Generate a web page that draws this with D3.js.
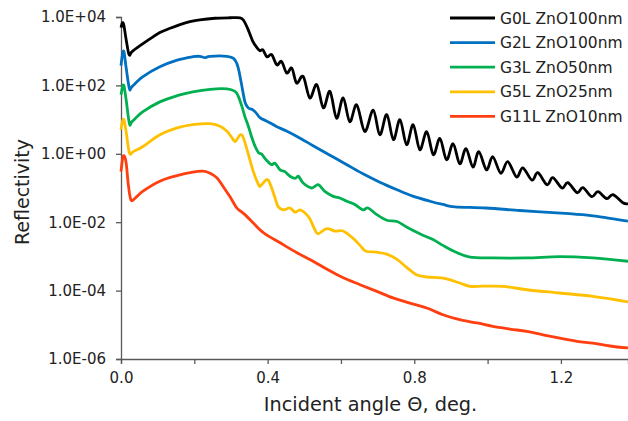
<!DOCTYPE html>
<html>
<head>
<meta charset="utf-8">
<script src="https://cdn.jsdelivr.net/npm/d3@7"></script>
<style>
  body { margin: 0; background: #fff; }
  svg { font-family: "DejaVu Sans", Verdana, sans-serif; }
</style>
</head>
<body>
<svg class="refl" width="628" height="421"></svg>
<script>
// angle in deg, reflectivity
var g0Angle = [0, 0.004, 0.008, 0.014, 0.022, 0.030, 0.052, 0.079, 0.106, 0.134, 0.161, 0.188, 0.215, 0.256, 0.297, 0.325,
  0.335, 0.346, 0.360, 0.371, 0.379, 0.387, 0.398, 0.411, 0.425, 0.438, 0.452, 0.466, 0.479, 0.497, 0.515, 0.534,
  0.552, 0.570, 0.588, 0.606, 0.624, 0.643, 0.665, 0.688, 0.706, 0.725, 0.743, 0.761, 0.779, 0.797, 0.815, 0.834,
  0.852, 0.870, 0.888, 0.906, 0.924, 0.941, 0.960, 0.976, 0.997, 1.014, 1.036, 1.055, 1.079, 1.096, 1.121, 1.137,
  1.162, 1.178, 1.203, 1.219, 1.244, 1.260, 1.284, 1.301, 1.325, 1.342, 1.369, 1.383];
var g0Refl = [4.9e3, 6.8e3, 5.6e3, 2.2e3, 7.9e2, 9.7e2, 1.45e3, 2.3e3, 3.5e3, 4.7e3, 6.0e3, 7.3e3, 8.3e3, 9.2e3, 9.5e3, 9.5e3,
  7.8e3, 4.5e3, 1.9e3, 1.26e3, 1.03e3, 1.1e3, 6.9e2, 7.9e2, 4.0e2, 5.0e2, 2.3e2, 3.2e2, 1.17e2, 1.83e2, 43, 105,
  22, 67, 11, 43, 8.7, 27, 4.5, 19, 3.6, 14, 2.6, 9.9, 1.85, 7.1, 1.32, 4.4,
  0.94, 2.8, 0.67, 1.97, 0.51, 1.41, 0.41, 1.15, 0.34, 0.82, 0.27, 0.59, 0.21, 0.39, 0.17, 0.28,
  0.125, 0.20, 0.10, 0.143, 0.073, 0.102, 0.056, 0.078, 0.049, 0.064, 0.037, 0.035];

var g2Angle = [0, 0.004, 0.008, 0.014, 0.023, 0.030, 0.060, 0.106, 0.153, 0.196, 0.215, 0.229, 0.243, 0.289, 0.308, 0.319,
  0.329, 0.338, 0.347, 0.357, 0.368, 0.379, 0.395, 0.406, 0.425, 0.450, 0.480, 0.524, 0.570, 0.616, 0.660, 0.706,
  0.753, 0.796, 0.843, 0.878, 0.911, 0.995, 1.088, 1.178, 1.271, 1.334, 1.383];
var g2Refl = [3.8e2, 7.9e2, 9.7e2, 3.3e2, 80, 92, 1.8e2, 3.5e2, 5.5e2, 6.9e2, 7.1e2, 6.5e2, 7.1e2, 7.1e2, 6.0e2, 3.5e2,
  105, 33, 22, 20, 16, 11.4, 9.3, 8.1, 6.2, 4.7, 3.2, 1.73, 0.91, 0.48, 0.26, 0.148,
  0.089, 0.058, 0.041, 0.033, 0.028, 0.026, 0.022, 0.019, 0.016, 0.013, 0.0107];

var g3Angle = [0, 0.004, 0.008, 0.014, 0.023, 0.030, 0.060, 0.106, 0.153, 0.196, 0.243, 0.289, 0.311, 0.320, 0.330, 0.338,
  0.347, 0.356, 0.365, 0.375, 0.384, 0.393, 0.402, 0.411, 0.420, 0.434, 0.447, 0.461, 0.475, 0.484, 0.497, 0.520,
  0.538, 0.556, 0.579, 0.597, 0.616, 0.638, 0.660, 0.674, 0.698, 0.725, 0.753, 0.780, 0.815, 0.851, 0.878, 0.911,
  0.952, 1.014, 1.107, 1.197, 1.287, 1.383];
var g3Refl = [53, 86, 98, 38, 7.6, 8.7, 17, 33, 50, 65, 77, 79, 67, 48, 24, 12.2,
  6.6, 3.2, 1.73, 1.08, 0.97, 0.72, 0.57, 0.48, 0.53, 0.34, 0.30, 0.22, 0.19, 0.22, 0.14, 0.10,
  0.125, 0.080, 0.057, 0.051, 0.041, 0.033, 0.023, 0.026, 0.0166, 0.0114, 0.0105, 0.0071, 0.0046, 0.0031, 0.0021, 0.00137,
  0.00095, 0.00090, 0.00090, 0.00098, 0.00090, 0.00072];

var g5Angle = [0, 0.004, 0.008, 0.014, 0.023, 0.033, 0.060, 0.106, 0.153, 0.196, 0.243, 0.270, 0.289, 0.303, 0.312, 0.325,
  0.334, 0.347, 0.361, 0.374, 0.380, 0.397, 0.406, 0.420, 0.429, 0.443, 0.461, 0.475, 0.488, 0.502, 0.515, 0.529,
  0.538, 0.561, 0.584, 0.606, 0.634, 0.652, 0.668, 0.697, 0.725, 0.752, 0.779, 0.806, 0.834, 0.879, 0.924, 0.952,
  0.987, 1.042, 1.107, 1.197, 1.287, 1.383];
var g5Refl = [5.1, 8.7, 9.9, 4.4, 1.05, 1.15, 1.64, 3.6, 5.7, 7.1, 7.6, 6.4, 4.6, 2.9, 2.3, 3.6,
  2.9, 1.0, 0.30, 0.134, 0.113, 0.175, 0.138, 0.052, 0.028, 0.023, 0.026, 0.0196, 0.023, 0.0186, 0.0126, 0.0060,
  0.0046, 0.0065, 0.0055, 0.0055, 0.0033, 0.0021, 0.00142, 0.00133, 0.00116, 0.00083, 0.00048, 0.00029, 0.00025, 0.00023, 0.000167, 0.000133,
  0.000135, 0.000133, 0.000106, 0.000085, 0.000068, 0.000047];

var g11Angle = [0, 0.004, 0.008, 0.014, 0.020, 0.027, 0.038, 0.060, 0.106, 0.153, 0.196, 0.224, 0.243, 0.262, 0.278, 0.297,
  0.316, 0.329, 0.343, 0.365, 0.390, 0.434, 0.480, 0.524, 0.562, 0.605, 0.652, 0.698, 0.742, 0.788, 0.834, 0.878,
  0.924, 0.971, 1.014, 1.061, 1.107, 1.151, 1.197, 1.244, 1.287, 1.334, 1.383];
var g11Refl = [0.30, 0.67, 0.88, 0.55, 0.125, 0.045, 0.050, 0.081, 0.158, 0.23, 0.29, 0.31, 0.27, 0.196, 0.113, 0.056,
  0.026, 0.020, 0.0148, 0.0085, 0.0048, 0.0025, 0.00128, 0.00072, 0.00042, 0.00024, 0.000149, 0.000095, 0.000061, 0.000043, 0.000031, 0.0000197,
  0.0000141, 0.0000113, 0.0000090, 0.0000075, 0.0000064, 0.0000051, 0.0000041, 0.0000033, 0.0000029, 0.0000024, 0.0000021];

var seriesNames = ["G0L ZnO100nm", "G2L ZnO100nm", "G3L ZnO50nm", "G5L ZnO25nm", "G11L ZnO10nm"];
var seriesColors = ["#000000", "#0070C0", "#00B050", "#FFC000", "#FF3F0F"];
var yTicks = [1e-6, 1e-4, 1e-2, 1, 1e2, 1e4];
var xTicks = [0, 0.2, 0.4, 0.6, 0.8, 1.0, 1.2];
var xTickLabels = {0: "0.0", 0.4: "0.4", 0.8: "0.8", 1.2: "1.2"};

var series = [
  [g0Angle, g0Refl], [g2Angle, g2Refl], [g3Angle, g3Refl], [g5Angle, g5Refl], [g11Angle, g11Refl]
].map(function(s, i) {
  return {
    name: seriesNames[i],
    color: seriesColors[i],
    values: s[0].map(function(a, j) { return {Angle: a, R: s[1][j]}; })
  };
});

var svg = d3.select(".refl"),
  margin = {top: 17, right: 0, bottom: 62, left: 121},
  width = +svg.attr("width") - margin.left - margin.right,
  height = 342,
  main = svg.append("g").attr("transform", "translate(" + margin.left + "," + margin.top + ")");

var x = d3.scaleLinear().domain([0, 1.383]).range([0, width]);
var y = d3.scaleLog().domain([1e-6, 1e4]).range([height, 0]);

function expLabel(d) {
  var e = Math.round(Math.log10(d));
  return "1.0E" + (e < 0 ? "-" : "+") + String(Math.abs(e)).padStart(2, "0");
}

var yaxis = d3.axisLeft(y).tickValues(yTicks).tickFormat(expLabel).tickSize(5).tickPadding(10);
var xaxis = d3.axisBottom(x).tickValues(xTicks).tickFormat(function(d) { return xTickLabels[d] || ""; })
  .tickSize(5).tickPadding(8);

var gy = main.append("g").attr("class", "yaxis").call(yaxis);
var gx = main.append("g").attr("class", "xaxis").attr("transform", "translate(0," + height + ")").call(xaxis);

[gy, gx].forEach(function(g) {
  g.select(".domain").attr("stroke", "#595959").attr("stroke-width", 1.3);
  g.selectAll(".tick line").attr("stroke", "#595959").attr("stroke-width", 1.3);
  g.selectAll(".tick text").attr("fill", "#222").style("font-size", "15px")
    .style("font-family", "'DejaVu Sans', Verdana, sans-serif");
});

var line = d3.line()
  .curve(d3.curveCatmullRom.alpha(0))
  .x(function(d) { return x(d.Angle); })
  .y(function(d) { return y(d.R); });

main.append("g").selectAll("path")
  .data(series.slice().reverse())
  .enter().append("path")
  .attr("fill", "none")
  .attr("stroke", function(d) { return d.color; })
  .attr("stroke-width", 2.8)
  .attr("stroke-linejoin", "round")
  .attr("d", function(d) { return line(d.values); });

// legend
var legend = svg.append("g").attr("transform", "translate(450,18)");
var row = legend.selectAll("g").data(series).enter().append("g")
  .attr("transform", function(d, i) { return "translate(0," + (i * 24.6) + ")"; });
row.append("line")
  .attr("x1", 0).attr("x2", 45).attr("y1", 0).attr("y2", 0)
  .attr("stroke", function(d) { return d.color; })
  .attr("stroke-width", 2.8);
row.append("text")
  .attr("x", 50).attr("y", 5.5)
  .attr("fill", "#222")
  .style("font-size", "15.5px")
  .text(function(d) { return d.name; });

// axis titles
svg.append("text")
  .attr("transform", "translate(29," + (margin.top + height / 2 + 4) + ") rotate(-90)")
  .attr("text-anchor", "middle")
  .attr("fill", "#222")
  .style("font-size", "19px")
  .text("Reflectivity");

svg.append("text")
  .attr("x", 370.5).attr("y", 411)
  .attr("text-anchor", "middle")
  .attr("fill", "#222")
  .style("font-size", "19.3px")
  .text("Incident angle Θ, deg.");
</script>
</body>
</html>
